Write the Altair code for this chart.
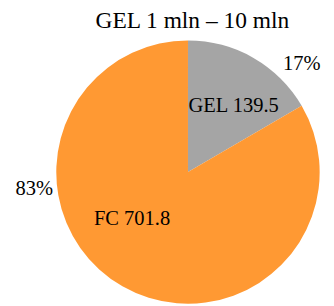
import altair as alt
import pandas as pd

categories = ["GEL", "FC"]
values = [139.5, 701.8]
percent_labels = ["17%", "83%"]
title_text = "GEL 1 mln – 10 mln"

df = pd.DataFrame({
    "cat": categories,
    "value": values,
    "pct": percent_labels,
    "order": [0, 1],
})
df["label"] = [f"{c} {v}" for c, v in zip(categories, values)]

CX, CY, R = 184.5, 164.5, 135
FONT = "Liberation Serif"

base = alt.Chart(df).encode(
    theta=alt.Theta("value:Q", stack=True),
    order=alt.Order("order:Q"),
    x=alt.value(CX),
    y=alt.value(CY),
)

arcs = base.mark_arc(outerRadius=R).encode(
    color=alt.Color(
        "cat:N",
        scale=alt.Scale(domain=categories, range=["#A5A5A5", "#FF9933"]),
        legend=None,
    )
)


def lab(field, cat, r, dx, dy):
    return base.mark_text(
        radius=r, dx=dx, dy=dy, font=FONT, fontSize=21, color="black",
        align="center", baseline="middle",
    ).encode(
        text=alt.condition(f"datum.cat == '{cat}'", f"{field}:N", alt.value(""))
    )


texts = [
    lab("label", "GEL", 82, 6, 4),
    lab("label", "FC", 75, -20, -17),
    lab("pct", "GEL", 160, 37, 28),
    lab("pct", "FC", 160, -78, -121),
]

title = alt.Chart(pd.DataFrame({"t": [title_text]})).mark_text(
    font=FONT, fontSize=24, color="black", align="center", baseline="middle"
).encode(text="t:N", x=alt.value(189), y=alt.value(10))

chart = alt.layer(arcs, *texts, title).properties(
    width=326, height=298, autosize="none", padding=0
).configure_view(strokeWidth=0)

chart.save("out.html", embed_options={"renderer": "svg", "actions": False})
